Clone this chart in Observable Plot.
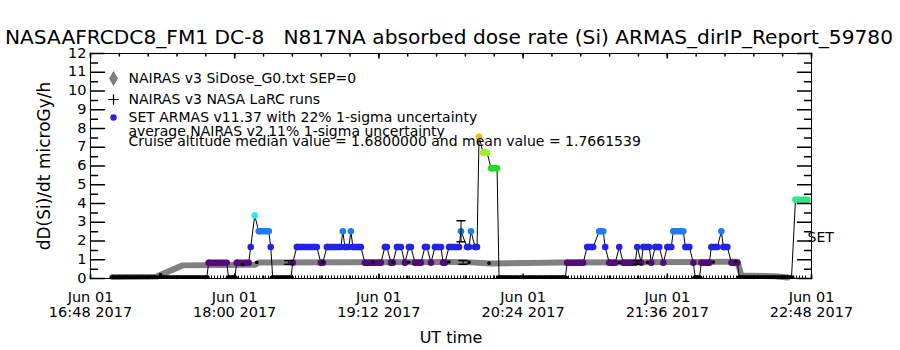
<!DOCTYPE html>
<html>
<head>
<meta charset="utf-8">
<script src="https://cdn.jsdelivr.net/npm/d3@7"></script>
<script src="https://cdn.jsdelivr.net/npm/@observablehq/plot@0.6"></script>
<style>
  html, body { margin: 0; padding: 0; background: #fff; }
  #title { display: block; overflow: visible; }
  #chart svg { display: block; overflow: visible; }
</style>
</head>
<body>
<svg id="title" width="900" height="50"></svg>
<div id="chart"></div>
<script>
// ---------- text ----------
const titleText = "NASAAFRCDC8_FM1 DC-8   N817NA absorbed dose rate (Si) ARMAS_dirIP_Report_59780";
const xAxisLabel = "UT time";
const yAxisLabel = "dD(Si)/dt microGy/h";
const legendLabels = [
  "NAIRAS v3 SiDose_G0.txt SEP=0",
  "NAIRAS v3 NASA LaRC runs",
  "SET ARMAS v11.37 with 22% 1-sigma uncertainty",
  "average NAIRAS v2 11% 1-sigma uncertainty",
  "Cruise altitude median value = 1.6800000 and mean value = 1.7661539"
];
const seriesLabel = "SET";

// ---------- axes ----------
const xDomainTimes = ["16:48", "22:48"];
const xTickTimes = ["16:48", "18:00", "19:12", "20:24", "21:36", "22:48"];
const yDomain = [0, 12];
const yTicks = [0, 1, 2, 3, 4, 5, 6, 7, 8, 9, 10, 11, 12];
const yMinorTicks = [0.5, 1.5, 2.5, 3.5, 4.5, 5.5, 6.5, 7.5, 8.5, 9.5, 10.5, 11.5];

// ---------- SET ARMAS (segments of equal value) ----------
const setStart = ["16:59","17:47","17:57","18:01","18:08","18:10","18:12","18:18","18:19","18:29","18:31","18:43","18:46","18:54","18:55","18:58","18:59","19:05","19:15","19:18","19:21","19:25","19:27","19:30","19:35","19:38","19:40","19:44","19:47","19:53","19:56","19:58","20:00","20:02","20:04","20:08","20:12","20:46","20:56","21:02","21:05","21:07","21:12","21:14","21:21","21:23","21:24","21:28","21:30","21:34","21:36","21:39","21:45","21:49","21:50","21:53","21:58","22:03","22:04","22:08","22:12","22:40"];
const setEnd   = ["17:46","17:56","18:00","18:07","18:08","18:10","18:17","18:18","18:28","18:29","18:41","18:44","18:53","18:54","18:57","18:58","19:03","19:13","19:16","19:19","19:23","19:25","19:28","19:33","19:36","19:38","19:43","19:45","19:52","19:53","19:57","19:58","20:01","20:02","20:06","20:11","20:45","20:54","20:59","21:04","21:05","21:10","21:12","21:20","21:21","21:23","21:27","21:28","21:32","21:34","21:38","21:44","21:47","21:49","21:52","21:57","22:01","22:03","22:06","22:11","22:38","22:46"];
const setValue = [0,0.84,0,0.84,1.68,3.36,2.52,1.68,0,0.84,1.68,0.84,1.68,2.52,1.68,2.52,1.68,0.84,1.68,0.84,1.68,0.84,1.68,0.84,1.68,0.84,1.68,0.84,1.68,2.52,1.68,2.52,1.68,7.56,6.72,5.88,0,0.84,1.68,2.52,1.68,0.84,1.68,0.84,1.68,0.84,1.68,0.84,1.68,0.84,1.68,2.52,1.68,0.84,0,0.84,1.68,2.52,1.68,0.84,0,4.2];

// ---------- NAIRAS v3 SiDose_G0 ----------
const nairasTime  = ["16:59","17:21","17:34","18:10","18:12","19:48","19:58","20:08","20:43","21:53","22:11","22:13","22:30","22:36"];
const nairasValue = [0.08,0.10,0.70,0.73,0.85,0.88,0.86,0.80,0.85,0.88,0.90,0.16,0.12,0.05];

// ---------- NAIRAS v3 NASA LaRC runs ----------
const larcTime  = ["17:23","18:04","18:11","18:44","19:09","19:19","19:27","19:47","19:57","20:07","21:12","21:26","21:59","22:10"];
const larcValue = [0.20,0.75,0.85,0.87,0.87,0.87,0.87,0.88,0.86,0.82,0.86,0.87,0.88,0.90];
const larcZeroStart = "16:59";
const larcZeroEnd = "22:46";
const larcZeroValue = 0;

// ---------- uncertainty bars ----------
const nairasErrTime = ["18:27","19:54","21:21"];
const nairasErrValue = [0.85, 0.86, 0.86];
const nairasErrFrac = 0.11;
const setErrTime = ["19:53"];
const setErrValue = [2.52];
const setErrFrac = 0.22;

// ---------- colour table ----------
const colorLevels = [0, 0.84, 1.68, 2.52, 3.36, 4.2, 5.04, 5.88, 6.72, 7.56];
const colorRange = ["#000000","#520c78","#2323e8","#1e7ee8","#30e2f2","#2ee68a","#2ee650","#22dc22","#a6ee22","#f5bb00"];

// ---------- build ----------
const base = Date.UTC(2017, 5, 1);
const parseT = s => { const [h, m, sec = 0] = s.split(":").map(Number); return new Date(base + ((h * 60 + m) * 60 + sec) * 1000); };

const xDomain = xDomainTimes.map(parseT);
const xTicks = xTickTimes.map(parseT);
const xMinorTicks = d3.range(0, 361, 14.4).map(m => new Date(xDomain[0].getTime() + m * 60000));

const setSegs = setStart.map((s, i) => ({start: parseT(s), end: parseT(setEnd[i]), v: setValue[i]}));
const setPoints = [];
setSegs.forEach(d => { setPoints.push({t: d.start, v: d.v}); if (+d.end !== +d.start) setPoints.push({t: d.end, v: d.v}); });
const nairas = nairasTime.map((t, i) => ({t: parseT(t), v: nairasValue[i]}));
const larc = larcTime.map((t, i) => ({t: parseT(t), v: larcValue[i]}));
const larcZero = [{start: parseT(larcZeroStart), end: parseT(larcZeroEnd), v: larcZeroValue}];
const errBars = [
  ...nairasErrTime.map((t, i) => ({t: parseT(t), lo: nairasErrValue[i] * (1 - nairasErrFrac), hi: nairasErrValue[i] * (1 + nairasErrFrac)})),
  ...setErrTime.map((t, i) => ({t: parseT(t), lo: setErrValue[i] * (1 - setErrFrac), hi: setErrValue[i] * (1 + setErrFrac)}))
];

const fmtDay = d3.utcFormat("%b %d");
const fmtTime = d3.utcFormat("%H:%M %Y");
const tickShape = {draw(ctx, l) { ctx.moveTo(0, 0); ctx.lineTo(0, -l); }};
const F = "DejaVu Sans";

const chart = Plot.plot({
  width: 900,
  height: 300,
  marginLeft: 90,
  marginRight: 89,
  marginTop: 3,
  marginBottom: 72,
  style: {fontFamily: F, fontSize: "14px", color: "black", background: "white", overflow: "visible"},
  x: {type: "utc", domain: xDomain, axis: null},
  y: {domain: yDomain, axis: null},
  color: {type: "linear", domain: colorLevels, range: colorRange},
  marks: [
    // NAIRAS band
    Plot.line(nairas, {x: "t", y: "v", stroke: "url(#checker)", strokeWidth: 6}),
    // LaRC zero markers along the floor
    Plot.ruleY(larcZero, {x1: "start", x2: "end", y: "v", stroke: "black", strokeWidth: 3, strokeDasharray: "1,2", dy: -1.5}),
    // SET line and markers
    Plot.line(setPoints, {x: "t", y: "v", stroke: "black", strokeWidth: 1, clip: true}),
    Plot.ruleY(setSegs, {x1: "start", x2: "end", y: "v", stroke: "v", strokeWidth: 6.5, clip: true}),
    Plot.dot(setPoints, {x: "t", y: "v", fill: "v", r: 3.3, clip: true}),
    // LaRC runs
    Plot.dot(larc, {x: "t", y: "v", r: 1.8, fill: "black"}),
    // uncertainty bars
    Plot.ruleX(errBars, {x: "t", y1: "lo", y2: "hi", stroke: "black"}),
    Plot.vector(errBars, {x: "t", y: "lo", rotate: 90, length: 8, anchor: "middle", shape: tickShape, stroke: "black"}),
    Plot.vector(errBars, {x: "t", y: "hi", rotate: 90, length: 8, anchor: "middle", shape: tickShape, stroke: "black"}),
    // frame
    Plot.frame({stroke: "black"}),
    // ticks (inward, all four sides)
    Plot.vector(yTicks, {y: d => d, frameAnchor: "left", rotate: 90, length: 14, anchor: "start", shape: tickShape, stroke: "black"}),
    Plot.vector(yMinorTicks, {y: d => d, frameAnchor: "left", rotate: 90, length: 7, anchor: "start", shape: tickShape, stroke: "black"}),
    Plot.vector(yTicks, {y: d => d, frameAnchor: "right", rotate: -90, length: 14, anchor: "start", shape: tickShape, stroke: "black"}),
    Plot.vector(yMinorTicks, {y: d => d, frameAnchor: "right", rotate: -90, length: 7, anchor: "start", shape: tickShape, stroke: "black"}),
    Plot.vector(xTicks, {x: d => d, frameAnchor: "bottom", rotate: 0, length: 4.5, anchor: "start", shape: tickShape, stroke: "black"}),
    Plot.vector(xMinorTicks, {x: d => d, frameAnchor: "bottom", rotate: 0, length: 2.5, anchor: "start", shape: tickShape, stroke: "black"}),
    Plot.vector(xTicks, {x: d => d, frameAnchor: "top", rotate: 180, length: 4.5, anchor: "start", shape: tickShape, stroke: "black"}),
    Plot.vector(xMinorTicks, {x: d => d, frameAnchor: "top", rotate: 180, length: 2.5, anchor: "start", shape: tickShape, stroke: "black"}),
    // tick labels
    Plot.text(yTicks, {y: d => d, frameAnchor: "left", text: d => `${d}`, textAnchor: "end", lineAnchor: "middle", dx: -4, dy: -0.5, fontSize: 14.5}),
    Plot.text(xTicks, {x: d => d, frameAnchor: "bottom", text: fmtDay, textAnchor: "middle", lineAnchor: "middle", dy: 18.5, fontSize: 14.5}),
    Plot.text(xTicks, {x: d => d, frameAnchor: "bottom", text: fmtTime, textAnchor: "middle", lineAnchor: "middle", dy: 34, fontSize: 14.5}),
    // axis titles
    Plot.text([xAxisLabel], {frameAnchor: "bottom", textAnchor: "middle", lineAnchor: "middle", dy: 59, fontSize: 16}),
    Plot.text([yAxisLabel], {frameAnchor: "left", textAnchor: "middle", lineAnchor: "middle", rotate: -90, dx: -46, fontSize: 17}),
    // legend
    Plot.dot([legendLabels[0]], {frameAnchor: "top-left", dx: 23, dy: 25, symbol: "diamond", r: 4.2, fill: "url(#checker)", stroke: "#444", strokeWidth: 0.5}),
    Plot.dot([legendLabels[1]], {frameAnchor: "top-left", dx: 23, dy: 46, symbol: "plus", r: 3.5, stroke: "black", strokeWidth: 1.2}),
    Plot.dot([legendLabels[2]], {frameAnchor: "top-left", dx: 23, dy: 64, r: 3.2, fill: colorRange[2]}),
    Plot.text([legendLabels[0]], {frameAnchor: "top-left", textAnchor: "start", lineAnchor: "middle", dx: 38, dy: 25, fontSize: 14}),
    Plot.text([legendLabels[1]], {frameAnchor: "top-left", textAnchor: "start", lineAnchor: "middle", dx: 38, dy: 46, fontSize: 14}),
    Plot.text([legendLabels[2]], {frameAnchor: "top-left", textAnchor: "start", lineAnchor: "middle", dx: 38, dy: 64, fontSize: 14}),
    Plot.text([legendLabels[3]], {frameAnchor: "top-left", textAnchor: "start", lineAnchor: "middle", dx: 38, dy: 78, fontSize: 14}),
    Plot.text([legendLabels[4]], {frameAnchor: "top-left", textAnchor: "start", lineAnchor: "middle", dx: 38, dy: 88, fontSize: 14}),
    // series label at right
    Plot.text([seriesLabel], {frameAnchor: "right", textAnchor: "start", lineAnchor: "middle", dx: -4, dy: 71.5, fontSize: 14})
  ]
});

// checkerboard pattern used by the NAIRAS band
const defs = d3.select(chart).insert("defs", ":first-child");
const pat = defs.append("pattern").attr("id", "checker").attr("patternUnits", "userSpaceOnUse").attr("width", 2).attr("height", 2);
pat.append("rect").attr("width", 2).attr("height", 2).attr("fill", "white");
pat.append("rect").attr("x", 0).attr("y", 0).attr("width", 1).attr("height", 1).attr("fill", "black");
pat.append("rect").attr("x", 1).attr("y", 1).attr("width", 1).attr("height", 1).attr("fill", "black");

document.getElementById("chart").appendChild(chart);

// title
d3.select("#title").append("text")
  .attr("x", 5).attr("y", 44)
  .attr("font-family", F).attr("font-size", 20)
  .attr("textLength", 888).attr("lengthAdjust", "spacingAndGlyphs")
  .style("white-space", "pre")
  .text(titleText);
</script>
</body>
</html>
